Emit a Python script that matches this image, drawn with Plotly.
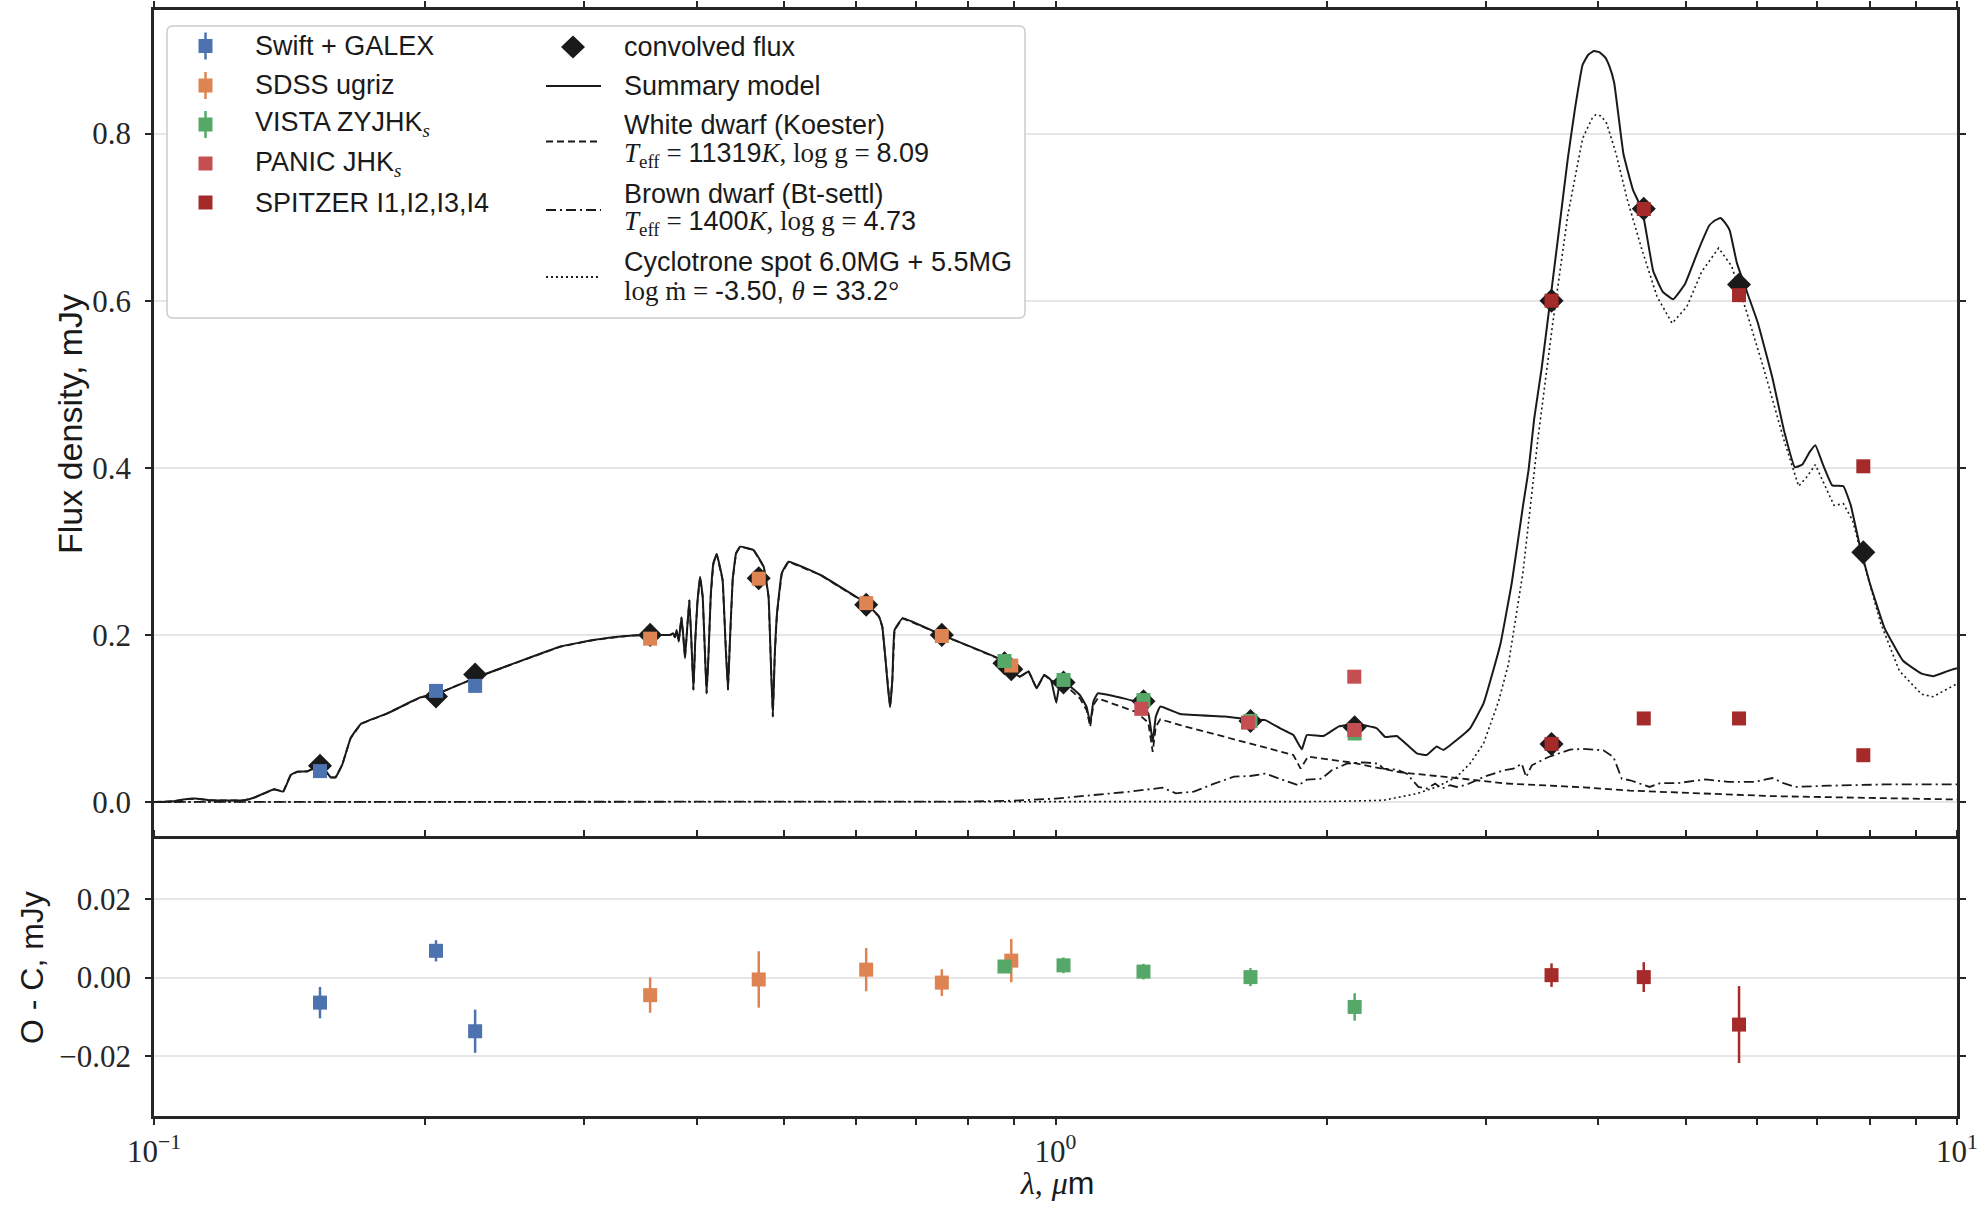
import plotly.graph_objects as go

# ---------------- data ----------------
swift_wl = [0.1528, 0.2055, 0.2271]
swift_flux = [0.0370, 0.1330, 0.1390]
swift_err = [0.0040, 0.0027, 0.0055]
swift_oc = [-0.0064, 0.0068, -0.0137]

sdss_wl = [0.3551, 0.4686, 0.6166, 0.7480, 0.8932]
sdss_flux = [0.1955, 0.2673, 0.2380, 0.1987, 0.1633]
sdss_err = [0.0045, 0.0072, 0.0055, 0.0034, 0.0055]
sdss_oc = [-0.0045, -0.0005, 0.0020, -0.0013, 0.0043]

vista_wl = [0.8778, 1.0207, 1.2520, 1.6455, 2.1470]
vista_flux = [0.1688, 0.1461, 0.1220, 0.0971, 0.0820]
vista_err = [0.0015, 0.0020, 0.0020, 0.0023, 0.0035]
vista_oc = [0.0028, 0.0031, 0.0015, 0.0001, -0.0075]

panic_wl = [1.245, 1.635, 2.145, 2.145]
panic_flux = [0.1115, 0.0950, 0.0862, 0.1500]

spitzer_wl = [3.550, 4.493, 5.731, 7.872, 3.550, 4.493, 5.731, 7.872]
spitzer_flux = [0.6000, 0.7098, 0.6067, 0.4018, 0.0695, 0.1000, 0.1000, 0.0560]
spitzer_oc_wl = [3.550, 4.493, 5.731]
spitzer_oc = [0.0006, 0.0001, -0.0120]
spitzer_oc_err = [0.0030, 0.0038, 0.0098]

conv_wl = [0.1528, 0.2055, 0.2271, 0.3551, 0.4686, 0.6166, 0.7480, 0.8932, 0.8778,
           1.0207, 1.2520, 1.6455, 2.1470, 3.550, 3.550, 4.493, 5.731, 7.872]
conv_flux = [0.0434, 0.1262, 0.1527, 0.2000, 0.2678, 0.2360, 0.2000, 0.1590, 0.1660,
             0.1430, 0.1205, 0.0970, 0.0895, 0.6000, 0.0695, 0.7100, 0.6195, 0.2988]

model_wl = [0.1000, 0.1053, 0.1089, 0.1117, 0.1156, 0.1259, 0.1290, 0.1359, 0.1391, 0.1418,
            0.1442, 0.1480, 0.1531, 0.1570, 0.1590, 0.1617, 0.1652, 0.1696, 0.1815, 0.1976,
            0.2055, 0.2290, 0.2821, 0.3072, 0.3345, 0.3499, 0.3736, 0.3767, 0.3783, 0.3800,
            0.3820, 0.3847, 0.3865, 0.3882, 0.3902, 0.3925, 0.3945, 0.3966, 0.3985, 0.4006,
            0.4034, 0.4061, 0.4086, 0.4102, 0.4121, 0.4145, 0.4174, 0.4209, 0.4273, 0.4306,
            0.4332, 0.4351, 0.4384, 0.4422, 0.4468, 0.4624, 0.4745, 0.4805, 0.4831, 0.4858,
            0.4881, 0.4910, 0.4970, 0.5056, 0.5480, 0.6163, 0.6372, 0.6425, 0.6479, 0.6517,
            0.6554, 0.6592, 0.6629, 0.6766, 0.7473, 0.8718, 0.8920, 0.9125, 0.9336, 0.9529,
            0.9715, 0.9884, 1.0019, 1.0111, 1.0228, 1.0644, 1.0828, 1.0927, 1.1015, 1.1141,
            1.1595, 1.2274, 1.2675, 1.2818, 1.2920, 1.3068, 1.3755, 1.5418, 1.6422, 1.7085,
            1.7750, 1.8088, 1.8360, 1.8760, 1.9000, 1.9830, 2.0600, 2.1550, 2.2720, 2.3210,
            2.3910, 2.5160, 2.5810, 2.6480, 2.6930, 2.7860, 2.8830, 2.9840, 3.0600, 3.1170,
            3.2080, 3.3010, 3.3480, 3.3960, 3.4620, 3.5380, 3.6120, 3.7000, 3.7700, 3.8430,
            3.8990, 3.9540, 4.0110, 4.0690, 4.1160, 4.1660, 4.2660, 4.3700, 4.4750, 4.6030,
            4.7150, 4.8430, 4.9920, 5.1620, 5.3110, 5.3870, 5.4660, 5.5340, 5.5970, 5.7000,
            6.0110, 6.2430, 6.4240, 6.6100, 6.7380, 6.8650, 6.9650, 7.1000, 7.2700, 7.4820,
            7.6240, 7.8080, 7.9980, 8.3080, 8.7120, 9.1350, 9.4020, 9.7650, 10.000]
model_flux = [0.0000, 0.0010, 0.0036, 0.0040, 0.0020, 0.0020, 0.0050, 0.0152, 0.0124, 0.0323,
              0.0363, 0.0367, 0.0443, 0.0295, 0.0295, 0.0443, 0.0762, 0.0934, 0.1061, 0.1253,
              0.1290, 0.1500, 0.1859, 0.1939, 0.1987, 0.1999, 0.1999, 0.2019, 0.1971, 0.2059,
              0.1919, 0.2210, 0.1979, 0.1720, 0.2059, 0.2418, 0.1939, 0.1340, 0.1939, 0.2378,
              0.2697, 0.2458, 0.1739, 0.1300, 0.1739, 0.2458, 0.2857, 0.2968, 0.2657, 0.1859,
              0.1340, 0.1859, 0.2657, 0.2976, 0.3056, 0.3016, 0.2817, 0.2458, 0.1739, 0.1020,
              0.1739, 0.2258, 0.2737, 0.2876, 0.2720, 0.2378, 0.2218, 0.2098, 0.1700, 0.1380,
              0.1133, 0.1460, 0.2058, 0.2198, 0.2000, 0.1700, 0.1580, 0.1500, 0.1562, 0.1360,
              0.1520, 0.1460, 0.1189, 0.1420, 0.1440, 0.1280, 0.1137, 0.0942, 0.1200, 0.1300,
              0.1269, 0.1200, 0.1060, 0.0722, 0.1022, 0.1142, 0.1053, 0.1022, 0.0990, 0.0980,
              0.0882, 0.0838, 0.0802, 0.0630, 0.0802, 0.0790, 0.0902, 0.0934, 0.0882, 0.0778,
              0.0790, 0.0583, 0.0563, 0.0663, 0.0623, 0.0742, 0.0882, 0.1180, 0.1580, 0.1900,
              0.2630, 0.3550, 0.3976, 0.4585, 0.5195, 0.6000, 0.6780, 0.7695, 0.8305, 0.8823,
              0.8945, 0.8988, 0.8976, 0.8915, 0.8805, 0.8610, 0.7756, 0.7330, 0.7085, 0.6354,
              0.6110, 0.6018, 0.6200, 0.6598, 0.6900, 0.6960, 0.6990, 0.6930, 0.6840, 0.6450,
              0.5740, 0.5070, 0.4460, 0.4006, 0.4040, 0.4190, 0.4270, 0.4040, 0.3790, 0.3780,
              0.3550, 0.3050, 0.2630, 0.2085, 0.1690, 0.1537, 0.1506, 0.1567, 0.1600]

# white dwarf: identical to the summary model below 1 micron (hidden under it), then:
wd_ext_wl = [1.0111, 1.0228, 1.0644, 1.0828, 1.0927, 1.1015, 1.1141, 1.1595, 1.2274, 1.2675,
             1.2818, 1.2920, 1.3068, 1.3755, 1.5418, 1.6440, 1.8360, 1.8700, 1.9060, 2.1230,
             2.4120, 2.7400, 3.1400, 3.8520, 4.3390, 6.2430, 8.6500, 10.000]
wd_ext_flux = [0.1400, 0.1410, 0.1240, 0.1100, 0.0900, 0.1160, 0.1240, 0.1170, 0.1080, 0.0950,
               0.0600, 0.0900, 0.0990, 0.0920, 0.0780, 0.0702, 0.0563, 0.0400, 0.0543, 0.0475,
               0.0355, 0.0295, 0.0223, 0.0176, 0.0136, 0.0070, 0.0040, 0.0030]

bd_wl = [0.10, 0.50, 0.80, 0.90, 1.00, 1.093, 1.20, 1.3142, 1.3601, 1.4239, 1.5000, 1.5775,
         1.6440, 1.7085, 1.7890, 1.8600, 1.9000, 1.9730, 2.0250, 2.1040, 2.1950, 2.2810,
         2.3100, 2.3910, 2.4530, 2.5270, 2.5810, 2.6370, 2.6820, 2.7400, 2.7870, 2.8590,
         2.9840, 3.1400, 3.2210, 3.2900, 3.3270, 3.3760, 3.5230, 3.7220, 3.8520, 4.0530,
         4.1580, 4.2470, 4.3390, 4.4300, 4.5600, 4.6900, 4.9000, 5.2600, 5.5800, 5.9600,
         6.2400, 6.4200, 6.6100, 7.2000, 8.3000, 10.000]
bd_flux = [0.0000, 0.0000, 0.0005, 0.0016, 0.0040, 0.0080, 0.0120, 0.0171, 0.0104, 0.0124,
           0.0220, 0.0303, 0.0311, 0.0340, 0.0259, 0.0199, 0.0267, 0.0279, 0.0379, 0.0459,
           0.0475, 0.0459, 0.0399, 0.0387, 0.0339, 0.0180, 0.0160, 0.0220, 0.0160, 0.0200,
           0.0180, 0.0208, 0.0299, 0.0379, 0.0399, 0.0459, 0.0299, 0.0439, 0.0539, 0.0627,
           0.0635, 0.0619, 0.0539, 0.0279, 0.0260, 0.0226, 0.0180, 0.0226, 0.0226, 0.0270,
           0.0240, 0.0240, 0.0287, 0.0226, 0.0180, 0.0195, 0.0210, 0.0210]

cyc_wl = [0.10, 1.00, 2.00, 2.31, 2.516, 2.648, 2.786, 2.883, 2.984, 3.10, 3.18, 3.301,
          3.428, 3.562, 3.700, 3.843, 3.936, 3.973, 4.030, 4.088, 4.186, 4.308, 4.475, 4.648,
          4.830, 5.016, 5.211, 5.439, 5.623, 5.841, 6.126, 6.424, 6.673, 6.802, 6.965, 7.134,
          7.305, 7.482, 7.659, 7.846, 8.226, 8.630, 9.135, 9.402, 9.765, 10.0]
cyc_flux = [0.0, 0.0, 0.0005, 0.002, 0.010, 0.018, 0.030, 0.046, 0.070, 0.120, 0.165, 0.2756,
            0.434, 0.574, 0.702, 0.794, 0.818, 0.8226, 0.8213, 0.812, 0.776, 0.721, 0.660,
            0.605, 0.573, 0.593, 0.635, 0.663, 0.6415, 0.587, 0.513, 0.434, 0.378, 0.388,
            0.4037, 0.379, 0.355, 0.357, 0.337, 0.294, 0.2146, 0.157, 0.129, 0.126, 0.135,
            0.1415]

x_tickvals = [0.1, 1, 10]
x_ticktext = ["10<sup>\u22121</sup>", "10<sup>0</sup>", "10<sup>1</sup>"]
x_minor = [0.2, 0.3, 0.4, 0.5, 0.6, 0.7, 0.8, 0.9, 2, 3, 4, 5, 6, 7, 8, 9]
y_top_ticks = [0.0, 0.2, 0.4, 0.6, 0.8]
y_bot_ticks = [-0.02, 0.0, 0.02]

# ---------------- styling / geometry ----------------
W, H = 1985, 1205
L, R, T, B = 154, 1957, 10, 1116
SPLIT = 839
dom_split = (B - SPLIT) / (B - T)

BLUE, ORANGE, GREEN, RED, DRED = "#4C72B0", "#DD8452", "#55A868", "#C44E52", "#A52A2A"
AX = "#262626"
GRID = "#e6e6e6"
INK = "#1a1a1a"
SANS = "Liberation Sans"
SERIF = "Liberation Serif"

DASH = "7px,4px"
DASHDOT = "10px,4px,2px,4px"
DOT = "2px,3px"

wd_wl = [w for w in model_wl if w < 1.0] + wd_ext_wl
wd_flux = [f for w, f in zip(model_wl, model_flux) if w < 1.0] + wd_ext_flux

fig = go.Figure()

# model curves (top)
fig.add_trace(go.Scatter(x=cyc_wl, y=cyc_flux, mode="lines",
                         line=dict(color=INK, width=1.6, dash=DOT), xaxis="x", yaxis="y"))
fig.add_trace(go.Scatter(x=bd_wl, y=bd_flux, mode="lines",
                         line=dict(color=INK, width=1.8, dash=DASHDOT), xaxis="x", yaxis="y"))
fig.add_trace(go.Scatter(x=wd_wl, y=wd_flux, mode="lines",
                         line=dict(color=INK, width=1.8, dash=DASH), xaxis="x", yaxis="y"))
fig.add_trace(go.Scatter(x=model_wl, y=model_flux, mode="lines",
                         line=dict(color=INK, width=2.0, shape="spline", smoothing=0.3),
                         xaxis="x", yaxis="y"))
# convolved flux
fig.add_trace(go.Scatter(x=conv_wl, y=conv_flux, mode="markers",
                         marker=dict(symbol="diamond", size=18.5, color=INK, line=dict(width=0)),
                         xaxis="x", yaxis="y"))


def sq(x, y, col, err=None, xa="x", ya="y"):
    kw = {}
    if err is not None:
        kw["error_y"] = dict(type="data", array=err, visible=True, color=col,
                             thickness=2.5, width=0)
    fig.add_trace(go.Scatter(x=x, y=y, mode="markers",
                             marker=dict(symbol="square", size=14, color=col, line=dict(width=0)),
                             xaxis=xa, yaxis=ya, **kw))


sq(swift_wl, swift_flux, BLUE, swift_err)
sq(sdss_wl, sdss_flux, ORANGE, sdss_err)
sq(vista_wl, vista_flux, GREEN, vista_err)
sq(panic_wl, panic_flux, RED)
sq(spitzer_wl, spitzer_flux, DRED)

# residuals (bottom)
sq(swift_wl, swift_oc, BLUE, swift_err, "x2", "y2")
sq(sdss_wl, sdss_oc, ORANGE, sdss_err, "x2", "y2")
sq(vista_wl, vista_oc, GREEN, vista_err, "x2", "y2")
sq(spitzer_oc_wl, spitzer_oc, DRED, spitzer_oc_err, "x2", "y2")

tickfont = dict(family=SERIF, size=31, color=AX)

xbase = dict(type="log", range=[-1, 1], tickvals=x_tickvals, showgrid=False, zeroline=False,
             ticklen=6, tickwidth=2, tickcolor=AX, automargin=False)
ybase = dict(zeroline=False, ticklen=6, tickwidth=2, tickcolor=AX, automargin=False)
xminor_out = dict(ticks="outside", tickvals=x_minor, ticklen=6, tickwidth=1.8,
                  tickcolor=AX, showgrid=False)
xminor_in = dict(ticks="inside", tickvals=x_minor, ticklen=6, tickwidth=1.8,
                 tickcolor=AX, showgrid=False)

layout = dict(
    width=W, height=H,
    margin=dict(l=L, r=W - R, t=T, b=H - B, pad=0, autoexpand=False),
    paper_bgcolor="white", plot_bgcolor="white",
    showlegend=False,
    font=dict(family=SANS, size=27, color=INK),
    # top panel: only the top frame line (the shared boundary is drawn by the lower panel)
    xaxis=dict(**xbase, domain=[0, 1], anchor="y", side="top", showticklabels=False,
               showline=True, linecolor=AX, linewidth=2.5, mirror=False, ticks="outside",
               minor=xminor_out),
    xaxis2=dict(**xbase, domain=[0, 1], anchor="y2", matches="x",
                ticktext=x_ticktext, tickfont=tickfont, ticklabelstandoff=0,
                showline=True, linecolor=AX, linewidth=2.5, mirror="ticks", ticks="outside",
                minor=xminor_out),
    yaxis=dict(**ybase, domain=[dom_split, 1], anchor="x", range=[-0.0443, 0.948],
               tickvals=y_top_ticks, tickformat=".1f", tickfont=tickfont,
               ticklabelstandoff=8,
               showgrid=True, gridcolor=GRID, gridwidth=2,
               showline=True, linecolor=AX, linewidth=2.5, mirror="ticks", ticks="outside"),
    yaxis2=dict(**ybase, domain=[0, dom_split], anchor="x2", range=[-0.0353, 0.0353],
                tickvals=y_bot_ticks, tickformat=".2f", tickfont=tickfont,
                ticklabelstandoff=8,
                showgrid=True, gridcolor=GRID, gridwidth=2,
                showline=True, linecolor=AX, linewidth=2.5, mirror="ticks", ticks="outside"),
    # overlay axes that add the inward half of each tick ("in-out" ticks)
    xaxis3=dict(**xbase, overlaying="x", anchor="y", side="top", showticklabels=False,
                showline=False, ticks="inside", mirror=False, minor=xminor_in),
    xaxis4=dict(**xbase, overlaying="x2", anchor="y2", showticklabels=False, showline=False,
                ticks="inside", mirror="ticks", minor=xminor_in),
    yaxis3=dict(**ybase, overlaying="y", anchor="x", range=[-0.0443, 0.948],
                tickvals=y_top_ticks, showticklabels=False, showgrid=False, showline=False,
                ticks="inside", mirror="ticks"),
    yaxis4=dict(**ybase, overlaying="y2", anchor="x2", range=[-0.0353, 0.0353],
                tickvals=y_bot_ticks, showticklabels=False, showgrid=False, showline=False,
                ticks="inside", mirror="ticks"),
)
fig.update_layout(**layout)


# ---------------- pixel -> paper helpers ----------------
def px(x):
    return (x - L) / (R - L)


def py(y):
    return (B - y) / (B - T)


annotations = []
shapes = []


def text(x, y, s, size=27, xanchor="left", angle=0, family=SANS):
    annotations.append(dict(x=px(x), y=py(y), xref="paper", yref="paper", text=s,
                            showarrow=False, xanchor=xanchor, yanchor="middle",
                            textangle=angle, font=dict(family=family, size=size, color=INK)))


# axis titles
text(70, 424, "Flux density, mJy", size=34, xanchor="center", angle=-90)
text(32, 968, "O - C, mJy", size=32, xanchor="center", angle=-90)
text(1057, 1183, "<span style=\"font-family:Liberation Serif\"><i>\u03bb</i>,</span> "
     "<span style=\"font-family:Liberation Serif\"><i>\u03bc</i></span>m",
     size=32, xanchor="center")

# legend frame
bx0, bx1, by0, by1 = px(167), px(1025), py(26), py(318)
rx, ry = 6 / (R - L), 6 / (B - T)
path = (f"M {bx0 + rx},{by0} L {bx1 - rx},{by0} Q {bx1},{by0} {bx1},{by0 - ry} "
        f"L {bx1},{by1 + ry} Q {bx1},{by1} {bx1 - rx},{by1} L {bx0 + rx},{by1} "
        f"Q {bx0},{by1} {bx0},{by1 + ry} L {bx0},{by0 - ry} Q {bx0},{by0} {bx0 + rx},{by0} Z")
shapes.append(dict(type="path", path=path, xref="paper", yref="paper",
                   fillcolor="rgba(255,255,255,0.9)", line=dict(color="#cccccc", width=1.5),
                   layer="above"))


def leg_square(cx, cy, col, errbar):
    if errbar:
        shapes.append(dict(type="line", xref="paper", yref="paper", x0=px(cx), x1=px(cx),
                           y0=py(cy - 13.5), y1=py(cy + 13.5), line=dict(color=col, width=2.5),
                           layer="above"))
    shapes.append(dict(type="rect", xref="paper", yref="paper", x0=px(cx - 7), x1=px(cx + 7),
                       y0=py(cy + 7), y1=py(cy - 7), fillcolor=col, line=dict(width=0),
                       layer="above"))


def leg_line(cy, dash):
    shapes.append(dict(type="line", xref="paper", yref="paper", x0=px(546), x1=px(601),
                       y0=py(cy), y1=py(cy), line=dict(color=INK, width=1.8, dash=dash),
                       layer="above"))


SER = "<span style=\"font-family:Liberation Serif\">"
left_rows = [
    (46, BLUE, True, "Swift + GALEX"),
    (85.5, ORANGE, True, "SDSS ugriz"),
    (124.5, GREEN, True, "VISTA ZYJHK<sub>" + SER + "<i>s</i></span></sub>"),
    (163.5, RED, False, "PANIC JHK<sub>" + SER + "<i>s</i></span></sub>"),
    (202.5, DRED, False, "SPITZER I1,I2,I3,I4"),
]
for cy, col, eb, label in left_rows:
    leg_square(205.5, cy, col, eb)
    text(253, cy, label)

# right column
cx, cy = 573, 47
shapes.append(dict(type="path", xref="paper", yref="paper",
                   path=f"M {px(cx - 12)},{py(cy)} L {px(cx)},{py(cy - 11.5)} "
                        f"L {px(cx + 12)},{py(cy)} L {px(cx)},{py(cy + 11.5)} Z",
                   fillcolor=INK, line=dict(width=0), layer="above"))
text(622, 47, "convolved flux")
leg_line(86, None)
text(622, 86, "Summary model")
leg_line(141.5, DASH)
text(622, 125, "White dwarf (Koester)")
text(622, 155, SER + "<i>T</i><sub>eff</sub> = </span>11319" + SER + "<i>K</i>, log g = </span>8.09")
leg_line(210, DASHDOT)
text(622, 194, "Brown dwarf (Bt-settl)")
text(622, 223, SER + "<i>T</i><sub>eff</sub> = </span>1400" + SER + "<i>K</i>, log g = </span>4.73")
leg_line(277, DOT)
text(622, 262, "Cyclotrone spot 6.0MG + 5.5MG")
text(622, 291, SER + "log \u1e41 = </span>-3.50, " + SER + "<i>\u03b8</i></span> = 33.2" + SER + "\u00b0</span>")

fig.update_layout(annotations=annotations, shapes=shapes)

fig.write_html("out.html")
